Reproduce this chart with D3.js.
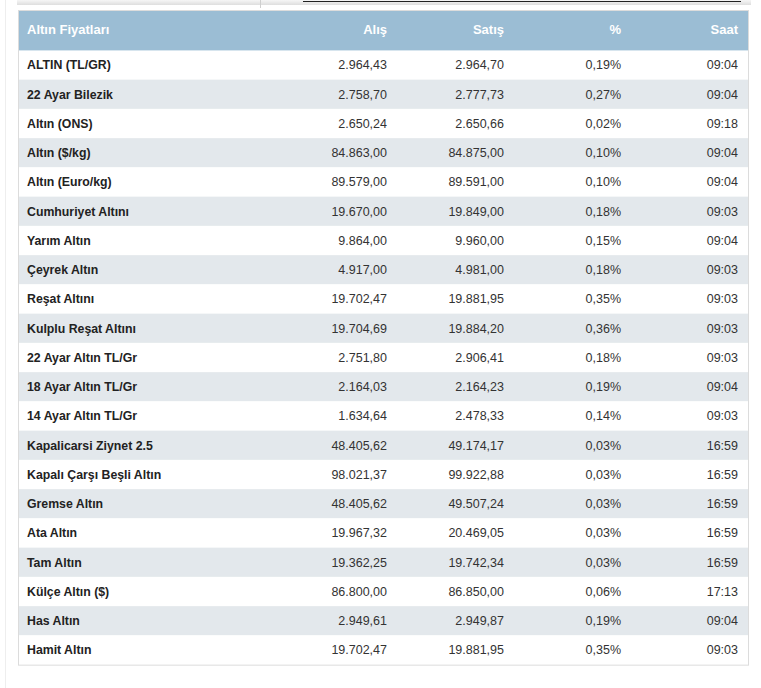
<!DOCTYPE html>
<html>
<head>
<meta charset="utf-8">
<script src="https://cdn.jsdelivr.net/npm/d3@7"></script>
<style>
html,body{margin:0;padding:0;background:#fff;}
svg{display:block;font-family:Arial,"Liberation Sans",sans-serif;}
</style>
</head>
<body>
<script>
const headers = ["Altın Fiyatları", "Alış", "Satış", "%", "Saat"];
const names = ["ALTIN (TL/GR)", "22 Ayar Bilezik", "Altın (ONS)", "Altın ($/kg)", "Altın (Euro/kg)",
  "Cumhuriyet Altını", "Yarım Altın", "Çeyrek Altın", "Reşat Altını", "Kulplu Reşat Altını",
  "22 Ayar Altın TL/Gr", "18 Ayar Altın TL/Gr", "14 Ayar Altın TL/Gr", "Kapalicarsi Ziynet 2.5",
  "Kapalı Çarşı Beşli Altın", "Gremse Altın", "Ata Altın", "Tam Altın", "Külçe Altın ($)",
  "Has Altın", "Hamit Altın"];
const alis = ["2.964,43", "2.758,70", "2.650,24", "84.863,00", "89.579,00", "19.670,00", "9.864,00",
  "4.917,00", "19.702,47", "19.704,69", "2.751,80", "2.164,03", "1.634,64", "48.405,62", "98.021,37",
  "48.405,62", "19.967,32", "19.362,25", "86.800,00", "2.949,61", "19.702,47"];
const satis = ["2.964,70", "2.777,73", "2.650,66", "84.875,00", "89.591,00", "19.849,00", "9.960,00",
  "4.981,00", "19.881,95", "19.884,20", "2.906,41", "2.164,23", "2.478,33", "49.174,17", "99.922,88",
  "49.507,24", "20.469,05", "19.742,34", "86.850,00", "2.949,87", "19.881,95"];
const degisim = ["0,19%", "0,27%", "0,02%", "0,10%", "0,10%", "0,18%", "0,15%", "0,18%", "0,35%",
  "0,36%", "0,18%", "0,19%", "0,14%", "0,03%", "0,03%", "0,03%", "0,03%", "0,03%", "0,06%", "0,19%", "0,35%"];
const saat = ["09:04", "09:04", "09:18", "09:04", "09:04", "09:03", "09:04", "09:03", "09:03", "09:03",
  "09:03", "09:04", "09:03", "16:59", "16:59", "16:59", "16:59", "16:59", "17:13", "09:04", "09:03"];

const W = 761, H = 688;
const svg = d3.select("body").append("svg").attr("width", W).attr("height", H);

// top decoration strip (page remnants)
const topG = svg.append("g");
const grad = svg.append("defs").append("linearGradient").attr("id","sh").attr("x1",0).attr("y1",0).attr("x2",0).attr("y2",1);
grad.append("stop").attr("offset","0%").attr("stop-color","#f6f6f6");
grad.append("stop").attr("offset","100%").attr("stop-color","#dedede");
topG.append("rect").attr("x",17).attr("y",0).attr("width",734).attr("height",5).attr("fill","url(#sh)");
topG.append("line").attr("x1",260.5).attr("x2",260.5).attr("y1",0).attr("y2",8).attr("stroke","#cfcfcf");
topG.append("line").attr("x1",303).attr("x2",741).attr("y1",1.5).attr("y2",1.5).attr("stroke","#222").attr("stroke-width",1);
svg.append("line").attr("x1",5.5).attr("x2",5.5).attr("y1",0).attr("y2",H).attr("stroke","#eeeeee");

const tLeft = 18, tRight = 749, tTop = 10, headerH = 40.4;
const rowTop = tTop + headerH;
const y = d3.scaleBand().domain(d3.range(names.length)).range([rowTop, rowTop + 29.25 * names.length]).padding(0);

const colX = d3.scaleOrdinal().domain(d3.range(5)).range([27, 387, 504, 621, 738]);
const anchors = ["start", "end", "end", "end", "end"];

const g = svg.append("g");
g.selectAll("rect.row").data(names).join("rect")
  .attr("class","row")
  .attr("x", tLeft).attr("width", tRight - tLeft)
  .attr("y", (d,i) => y(i)).attr("height", y.bandwidth())
  .attr("fill", (d,i) => i % 2 ? "#e3e8ec" : "#ffffff");

g.append("rect").attr("x", tLeft).attr("y", tTop).attr("width", tRight - tLeft).attr("height", headerH).attr("fill", "#9bbdd4");
g.selectAll("text.hd").data(headers).join("text")
  .attr("class","hd")
  .attr("x", (d,i) => colX(i)).attr("y", tTop + headerH/2 - 1)
  .attr("dy", "0.35em")
  .attr("text-anchor", (d,i) => anchors[i])
  .attr("fill", "#ffffff").attr("font-weight", "bold").attr("font-size", "13px")
  .text(d => d);

g.append("rect").attr("x", tLeft + 0.5).attr("y", tTop + 0.5)
  .attr("width", tRight - tLeft - 1).attr("height", y.range()[1] - tTop)
  .attr("fill", "none").attr("stroke", "#dcdcdc");

const cols = [names, alis, satis, degisim, saat];
cols.forEach((arr, ci) => {
  g.selectAll("text.c" + ci).data(arr).join("text")
    .attr("class", "c" + ci)
    .attr("x", colX(ci))
    .attr("y", (d,i) => y(i) + y.bandwidth()/2)
    .attr("dy", "0.35em")
    .attr("text-anchor", anchors[ci])
    .attr("fill", ci === 0 ? "#222222" : "#333333")
    .attr("font-weight", ci === 0 ? "bold" : "normal")
    .attr("font-size", ci === 0 ? "12.3px" : "12.5px")
    .text(d => d);
});
</script>
</body>
</html>
